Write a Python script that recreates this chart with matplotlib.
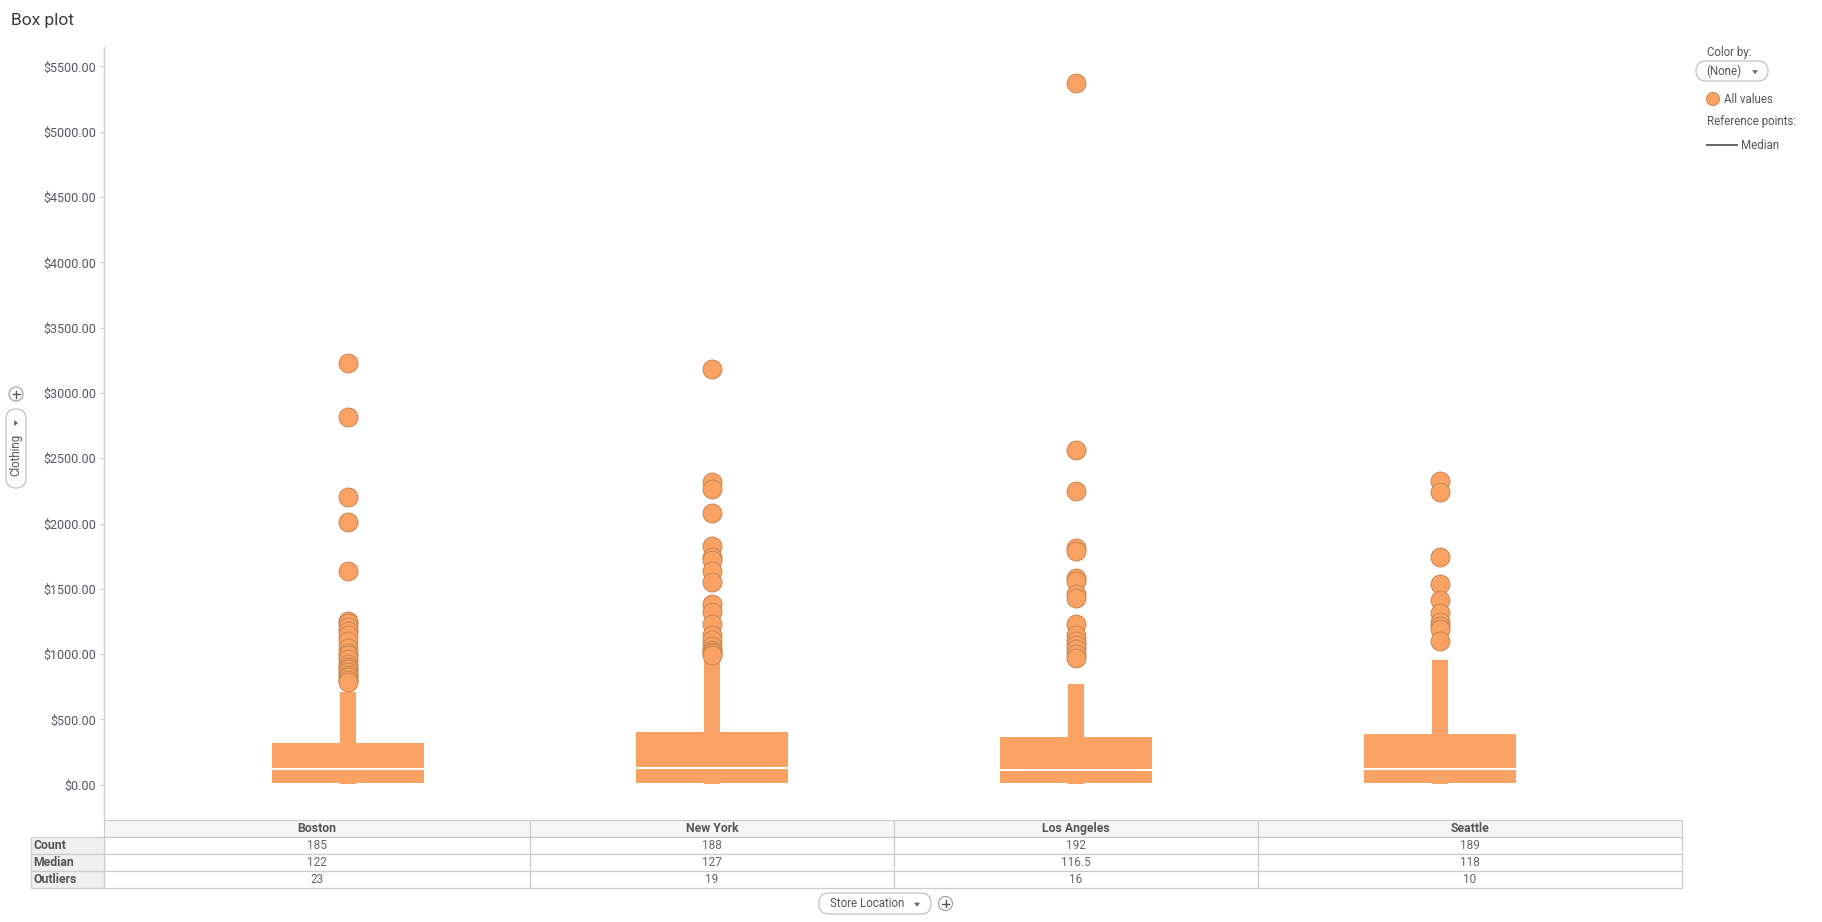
import numpy as np
import matplotlib
matplotlib.use("Agg")
import matplotlib.pyplot as plt
import matplotlib.transforms as mtransforms
from matplotlib.patches import FancyBboxPatch, Rectangle, Circle, Polygon
from matplotlib.lines import Line2D
from matplotlib.ticker import FuncFormatter

W, H, DPI = 1822, 922, 100

# ---------------- data ----------------
categories = ["Boston", "New York", "Los Angeles", "Seattle"]
counts = [185, 188, 192, 189]
medians = [122, 127, 116.5, 118]
q1 = [15, 15, 17, 15]
q3 = [319, 403, 365, 391]
whisker_low = [2, 2, 2, 2]
whisker_high = [712, 985, 773, 952]

boston_outliers = [3227, 2813, 2200, 2009, 1634, 1256, 1240, 1210, 1180, 1146,
                   1100, 1049, 1010, 993, 960, 922, 900, 884, 860, 840, 827, 805, 789]
newyork_outliers = [3181, 2320, 2262, 2083, 1828, 1746, 1720, 1636, 1554, 1384,
                    1320, 1228, 1150, 1108, 1064, 1030, 1018, 1005, 993]
losangeles_outliers = [5376, 2563, 2251, 1815, 1789, 1584, 1557, 1459, 1432,
                       1227, 1148, 1103, 1067, 1040, 1000, 969]
seattle_outliers = [2322, 2243, 1744, 1539, 1414, 1317, 1246, 1219, 1190, 1103]
outliers = [boston_outliers, newyork_outliers, losangeles_outliers, seattle_outliers]
n_outliers = [len(o) for o in outliers]

y_ticks = [0, 500, 1000, 1500, 2000, 2500, 3000, 3500, 4000, 4500, 5000, 5500]
row_labels = ["Count", "Median", "Outliers"]

# ---------------- style ----------------
ORANGE = "#F9A263"
EDGE = "#C98450"
AXIS_C = "#CDCDDC"
TICK_TXT = "#55556A"
TXT = "#555555"
GRID_C = "#CCCCCC"

plt.rcParams["font.family"] = ["Roboto", "DejaVu Sans"]

fig = plt.figure(figsize=(W / DPI, H / DPI), dpi=DPI)
fig.patch.set_facecolor("white")
PX = mtransforms.Affine2D().scale(1, -1).translate(0, H)  # pixel coords, origin top-left
ID = mtransforms.IdentityTransform()


def fpos(l, t, r, b):
    return [l / W, (H - b) / H, (r - l) / W, (b - t) / H]


# ---------------- main axes ----------------
AX_L, AX_R, AX_T, AX_B = 104, 1682, 47, 820
ax = fig.add_axes(fpos(AX_L, AX_T, AX_R, AX_B))
positions = np.arange(len(categories))

stats = []
for i, c in enumerate(categories):
    stats.append(dict(med=medians[i], q1=q1[i], q3=q3[i], whislo=whisker_low[i],
                      whishi=whisker_high[i], fliers=np.array(outliers[i]), label=c))

ax.bxp(stats, positions=positions, widths=0.418, patch_artist=True, showcaps=False,
       showfliers=True,
       boxprops=dict(facecolor=ORANGE, edgecolor="none", linewidth=0),
       whiskerprops=dict(color=ORANGE, linewidth=16 * 0.72, solid_capstyle="butt"),
       medianprops=dict(color="white", linewidth=2 * 0.72, solid_capstyle="butt", zorder=4),
       flierprops=dict(marker="o", markersize=13.6, markerfacecolor=ORANGE,
                       markeredgecolor=EDGE, markeredgewidth=0.7, linestyle="none", zorder=5))

ax.set_xlim(-0.67, 3.665)
ax.set_ylim(-270, 5649)
ax.set_xticks([])
ax.set_yticks(y_ticks)
ax.yaxis.set_major_formatter(FuncFormatter(lambda v, p: "${:.2f}".format(v)))
ax.tick_params(axis="y", length=4 * 0.72, width=0.8, color=AXIS_C, pad=4 * 0.72,
               labelsize=9, labelcolor=TICK_TXT)
for s in ["top", "right", "bottom"]:
    ax.spines[s].set_visible(False)
ax.spines["left"].set_color(AXIS_C)
ax.spines["left"].set_linewidth(1.0)
ax.set_facecolor("white")

# ---------------- table ----------------
TB_T, TB_B = 820, 888
axt = fig.add_axes(fpos(AX_L, TB_T, AX_R, TB_B))
axt.set_xlim(ax.get_xlim())
axt.set_ylim(4, 0)
axt.axis("off")
x0, x1 = ax.get_xlim()
edges = [x0] + list((positions[:-1] + positions[1:]) / 2.0) + [x1]
for i, c in enumerate(categories):
    axt.add_patch(Rectangle((edges[i], 0), edges[i + 1] - edges[i], 1, facecolor="#F6F6F6",
                            edgecolor=GRID_C, linewidth=0.9, clip_on=False))
    cx = (edges[i] + edges[i + 1]) / 2.0
    axt.text(cx, 0.5, c, ha="center", va="center", fontsize=8.8, fontweight="bold",
             color=TXT, clip_on=False)
    vals = [str(counts[i]), "{:g}".format(medians[i]), str(n_outliers[i])]
    for r, v in enumerate(vals):
        axt.add_patch(Rectangle((edges[i], r + 1), edges[i + 1] - edges[i], 1, facecolor="white",
                                edgecolor=GRID_C, linewidth=0.9, clip_on=False))
        axt.text(cx, r + 1.5, v, ha="center", va="center", fontsize=8.5, color="#666666",
                 clip_on=False)

blend = mtransforms.blended_transform_factory(axt.transAxes, axt.transData)
lab_l = (31 - AX_L) / (AX_R - AX_L)
for r, lab in enumerate(row_labels):
    axt.add_patch(Rectangle((lab_l, r + 1), -lab_l, 1, transform=blend, facecolor="#EFEFEF",
                            edgecolor=GRID_C, linewidth=0.9, clip_on=False))
    axt.text((33 - AX_L) / (AX_R - AX_L), r + 1.5, lab, transform=blend, ha="left",
             va="center", fontsize=8.8, fontweight="bold", color=TXT, clip_on=False)

# ---------------- title ----------------
fig.text(11, 20, "Box plot", transform=PX, ha="left", va="center", fontsize=12.5,
         color="#3A3A3A", fontweight="normal")


# ---------------- helpers for UI widgets ----------------
def add_pill(l, t, r, b, rad=10):
    p = FancyBboxPatch((l, H - b), r - l, b - t, boxstyle="round,pad=0,rounding_size=%g" % rad,
                       transform=ID, facecolor="white", edgecolor="#BBBBBB", linewidth=0.8)
    fig.add_artist(p)


def add_plus(cx, cy, r=7):
    fig.add_artist(Circle((cx, H - cy), r, transform=ID,
                          facecolor="white", edgecolor="#999999", linewidth=0.8))
    fig.add_artist(Line2D([cx - 3.5, cx + 3.5], [H - cy, H - cy],
                          transform=ID, color="#555555", linewidth=1.0))
    fig.add_artist(Line2D([cx, cx], [H - cy - 3.5, H - cy + 3.5],
                          transform=ID, color="#555555", linewidth=1.0))


def add_tri(cx, cy, direction="down", s=3):
    if direction == "down":
        pts = [(cx - s, H - cy + s * 0.6), (cx + s, H - cy + s * 0.6), (cx, H - cy - s * 0.7)]
    else:
        pts = [(cx - s * 0.6, H - cy - s), (cx - s * 0.6, H - cy + s), (cx + s * 0.7, H - cy)]
    fig.add_artist(Polygon(pts, closed=True, transform=ID,
                           facecolor="#666666", edgecolor="none"))


# ---------------- legend (right) ----------------
fig.text(1707, 52.5, "Color by:", transform=PX, ha="left", va="center", fontsize=8.3, color=TXT)
add_pill(1696, 61, 1768, 81, rad=10)
fig.text(1706, 71, "(None)", transform=PX, ha="left", va="center", fontsize=8.3, color=TXT)
add_tri(1755, 72, "down", 3)
fig.add_artist(Circle((1713, H - 99), 6.5, transform=ID,
                      facecolor=ORANGE, edgecolor=EDGE, linewidth=0.7))
fig.text(1724, 99, "All values", transform=PX, ha="left", va="center", fontsize=8.3, color=TXT)
fig.text(1707, 121, "Reference points:", transform=PX, ha="left", va="center", fontsize=8.3,
         color=TXT)
fig.add_artist(Line2D([1707, 1737], [H - 145, H - 145], transform=ID,
                      color="#666666", linewidth=1.4))
fig.text(1741, 145, "Median", transform=PX, ha="left", va="center", fontsize=8.3, color=TXT)

# ---------------- left widget (Clothing) ----------------
add_plus(16, 394, 7)
add_pill(6, 409, 26, 488, rad=10)
add_tri(16, 423, "right", 3)
fig.text(16, 455, "Clothing", transform=PX, ha="center", va="center", rotation=90,
         fontsize=8.3, color=TXT)

# ---------------- bottom widget (Store Location) ----------------
add_pill(819, 893, 931, 914, rad=10)
fig.text(830, 903.5, "Store Location", transform=PX, ha="left", va="center", fontsize=8.3,
         color=TXT)
add_tri(917, 904.5, "down", 3)
add_plus(945.5, 903.5, 7)

fig.savefig("out.png", dpi=DPI, facecolor="white")
